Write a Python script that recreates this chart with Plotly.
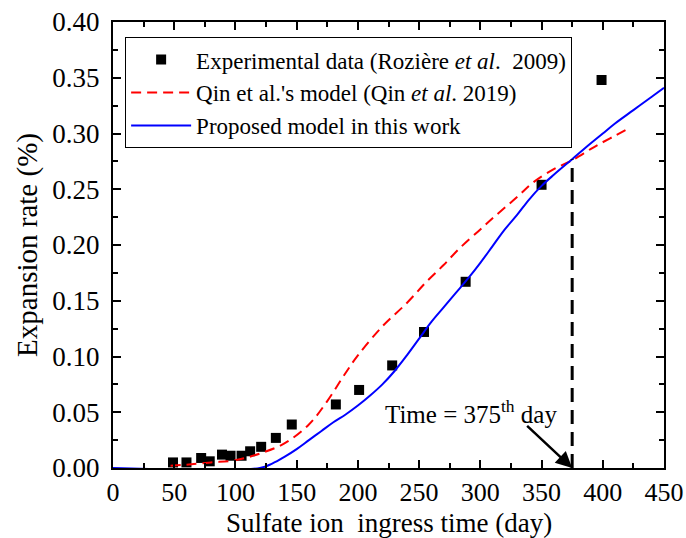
import plotly.graph_objects as go

# Experimental data (Rozière et al. 2009)
exp_day = [49, 60, 72, 79, 89, 96, 105, 112, 121, 133, 146, 182, 201, 228, 254, 288, 350, 399]
exp_rate = [0.005, 0.005, 0.009, 0.006, 0.012, 0.011, 0.011, 0.015, 0.019, 0.027, 0.039,
            0.057, 0.070, 0.092, 0.122, 0.167, 0.254, 0.348]

# Qin et al.'s model (Qin et al. 2019)
qin_day = [47, 60, 80, 100, 120, 140, 160, 175, 188, 200, 220, 240, 256, 270, 283, 300,
           310, 330, 343, 360, 375, 390, 398, 410, 422]
qin_rate = [0.002, 0.003, 0.005, 0.007, 0.013, 0.022, 0.039, 0.060, 0.082, 0.101, 0.127,
            0.148, 0.167, 0.182, 0.197, 0.214, 0.224, 0.243, 0.256, 0.268, 0.276, 0.286,
            0.291, 0.298, 0.305]

# Proposed model in this work
prop_day = [0, 120, 130, 140, 150, 160, 170, 180, 190, 200, 210, 220, 230, 240, 250, 260,
            270, 280, 290, 300, 310, 320, 330, 340, 350, 360, 375, 390, 400, 410, 425, 440, 450]
prop_rate = [0.0, 0.0, 0.004, 0.010, 0.017, 0.025, 0.033, 0.041, 0.048, 0.056, 0.065,
             0.075, 0.087, 0.101, 0.116, 0.131, 0.144, 0.157, 0.170, 0.184, 0.199, 0.214,
             0.227, 0.241, 0.253, 0.263, 0.277, 0.291, 0.300, 0.309, 0.321, 0.333, 0.341]

marked_day = 375
marked_rate = 0.277
label_day, label_rate = 292, 0.050
arrow_tail_day, arrow_tail_rate = 337, 0.039

x_ticks = [0, 50, 100, 150, 200, 250, 300, 350, 400, 450]
y_ticks = [0.00, 0.05, 0.10, 0.15, 0.20, 0.25, 0.30, 0.35, 0.40]

FONT = "Liberation Serif"

fig = go.Figure()
fig.add_trace(go.Scatter(
    x=exp_day, y=exp_rate, mode="markers",
    marker=dict(symbol="square", size=10, color="black"),
    name="Experimental data (Rozière <i>et al</i>.\u00a0\u00a02009)"))
fig.add_trace(go.Scatter(
    x=qin_day, y=qin_rate, mode="lines", line_shape="spline",
    line=dict(color="#ff0000", width=2, dash="10px,6px"),
    name="Qin et al.'s model (Qin <i>et al</i>. 2019)"))
fig.add_trace(go.Scatter(
    x=prop_day, y=prop_rate, mode="lines", line_shape="spline",
    line=dict(color="#0000ff", width=2),
    name="Proposed model in this work"))

fig.add_shape(type="line", x0=marked_day, x1=marked_day, y0=0, y1=marked_rate,
              xref="x", yref="y", line=dict(color="black", width=3, dash="14px,8px"))

fig.add_annotation(x=label_day, y=label_rate, xref="x", yref="y",
                   text="Time = 375<sup>th</sup> day", showarrow=False,
                   font=dict(family=FONT, size=25, color="black"))
fig.add_annotation(x=marked_day, y=0, ax=arrow_tail_day, ay=arrow_tail_rate,
                   xref="x", yref="y", axref="x", ayref="y", text="",
                   showarrow=True, arrowhead=2, arrowsize=1.3, arrowwidth=2.5,
                   arrowcolor="black", standoff=0)

# x-axis title placed as a paper annotation for exact vertical placement
fig.add_annotation(x=0.5, y=-0.1235, xref="paper", yref="paper",
                   xanchor="center", yanchor="middle", showarrow=False,
                   text="Sulfate ion\u00a0\u00a0ingress time (day)",
                   font=dict(family=FONT, size=27, color="black"))

axis_common = dict(
    showline=True, linewidth=2, linecolor="black", mirror="allticks",
    ticks="inside", ticklen=8, tickwidth=1.5, tickcolor="black",
    showgrid=False, zeroline=False, automargin=False,
)
fig.update_xaxes(range=[0, 450], tickvals=x_ticks, ticktext=[str(v) for v in x_ticks],
                 minor=dict(ticks="inside", ticklen=5, tickwidth=1.5, tickcolor="black", dtick=25),
                 ticklabelstandoff=0,
                 tickfont=dict(family=FONT, size=26, color="black"),
                 **axis_common)
fig.update_yaxes(range=[0, 0.40], tickvals=y_ticks, ticktext=[f"{v:.2f}" for v in y_ticks],
                 minor=dict(ticks="inside", ticklen=5, tickwidth=1.5, tickcolor="black", dtick=0.025),
                 title=dict(text="Expansion rate (%)",
                            font=dict(family=FONT, size=29, color="black"), standoff=6),
                 ticklabelstandoff=6,
                 tickfont=dict(family=FONT, size=27, color="black"),
                 **axis_common)

fig.update_layout(
    width=686, height=538,
    margin=dict(l=113, r=22, t=22, b=70),
    plot_bgcolor="white", paper_bgcolor="white",
    font=dict(family=FONT, color="black"),
    legend=dict(x=0.022, y=0.966, xanchor="left", yanchor="top",
                bordercolor="black", borderwidth=1, bgcolor="white",
                font=dict(family=FONT, size=23, color="black"),
                itemwidth=60, tracegroupgap=0),
    showlegend=True,
)

fig.write_html("out.html")
